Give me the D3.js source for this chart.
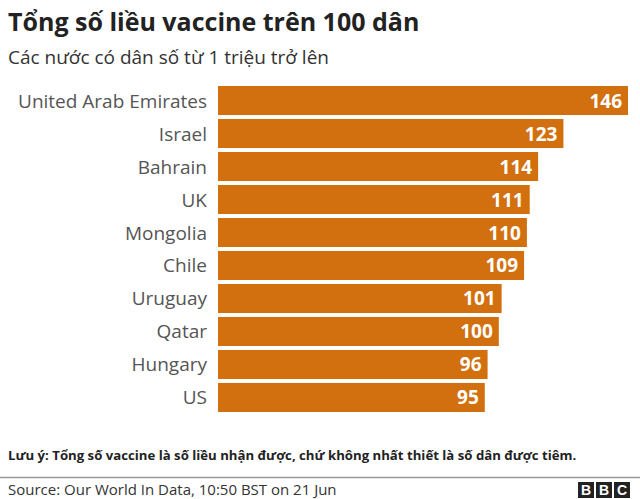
<!DOCTYPE html>
<html><head><meta charset="utf-8">
<script src="https://cdn.jsdelivr.net/npm/d3@7"></script>
<style>body{margin:0;background:#fff}</style>
</head><body><div id="chart"></div>
<script>
const countries = ['United Arab Emirates','Israel','Bahrain','UK','Mongolia','Chile','Uruguay','Qatar','Hungary','US']
const doses = [146,123,114,111,110,109,101,100,96,95]

const svg = d3.select('#chart').append('svg').attr('width',640).attr('height',499)
  .style('font-family','"Open Sans", sans-serif')

const x = d3.scaleLinear().domain([0,146]).range([218,628])
const y = d3.scaleBand().domain(countries).range([86,412]).paddingInner(0.12)

svg.append('text').attr('x',8).attr('y',31).attr('font-size',25).attr('font-weight',700)
  .attr('fill','#222').text('Tổng số liều vaccine trên 100 dân')
svg.append('text').attr('x',8).attr('y',64).attr('font-size',19).attr('fill','#333')
  .text('Các nước có dân số từ 1 triệu trở lên')

svg.selectAll('rect.bar').data(countries).join('rect').attr('class','bar')
  .attr('x',x(0)).attr('y',d=>y(d)).attr('height',y.bandwidth())
  .attr('width',(d,i)=>x(doses[i])-x(0)).attr('fill','#d2700f')

svg.selectAll('text.val').data(countries).join('text').attr('class','val')
  .attr('x',(d,i)=>x(doses[i])-6).attr('y',d=>y(d)+y.bandwidth()/2+7)
  .attr('text-anchor','end').attr('font-size',19).attr('font-weight',700).attr('fill','#fff')
  .text((d,i)=>doses[i])

svg.selectAll('text.lab').data(countries).join('text').attr('class','lab')
  .attr('x',207).attr('y',d=>y(d)+y.bandwidth()/2+7)
  .attr('text-anchor','end').attr('font-size',19).attr('fill','#555').text(d=>d)

svg.append('text').attr('x',8).attr('y',460).attr('font-size',13.2).attr('font-weight',700)
  .attr('fill','#222').text('Lưu ý: Tổng số vaccine là số liều nhận được, chứ không nhất thiết là số dân được tiêm.')
svg.append('line').attr('x1',0).attr('x2',640).attr('y1',477.5).attr('y2',477.5)
  .attr('stroke','#999').attr('stroke-width',1.5)
svg.append('text').attr('x',8).attr('y',495).attr('font-size',15).attr('fill','#333')
  .text('Source: Our World In Data, 10:50 BST on 21 Jun')

const logo = svg.append('g')
;['B','B','C'].forEach((c,i)=>{
  const bx = 578 + i*18
  logo.append('rect').attr('x',bx).attr('y',482).attr('width',16).attr('height',16).attr('fill','#222')
  logo.append('text').attr('x',bx+8).attr('y',495).attr('text-anchor','middle')
    .attr('font-size',14).attr('font-weight',700).attr('fill','#fff')
    .style('font-family','Arial, "Liberation Sans", sans-serif').text(c)
})
</script></body></html>
